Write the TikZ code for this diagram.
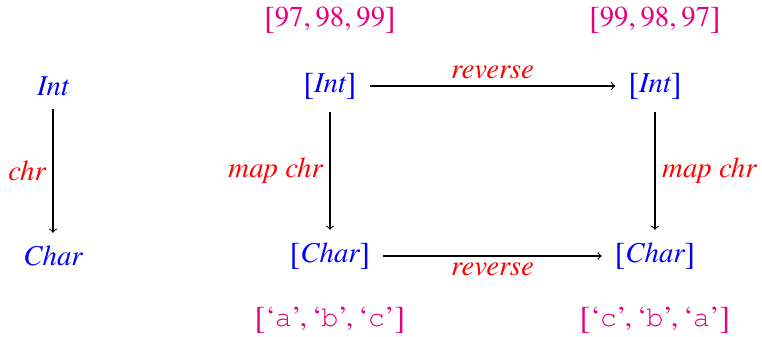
\documentclass[tikz,border=0pt]{standalone}
\usepackage{fontspec}
\setmainfont{texgyretermes}[
    Extension=.otf,
    UprightFont=*-regular,
    ItalicFont=*-italic,
    BoldFont=*-bold,
    BoldItalicFont=*-bolditalic]
\setmonofont{texgyrecursor}[
    Extension=.otf,
    UprightFont=*-regular]
\usepackage{xcolor}
\usepackage{tikz}
\usetikzlibrary{positioning}

\definecolor{listpink}{RGB}{230,0,125}

% taller square brackets, as in the printed lists
\newcommand{\lbrk}{\raisebox{-0.05em}{\upshape\fontsize{16}{18}\selectfont[}}
\newcommand{\rbrk}{\raisebox{-0.05em}{\upshape\fontsize{16}{18}\selectfont]}}

\begin{document}
\begin{tikzpicture}[
    x=0.5pt,
    y=-0.5pt,
    font=\fontsize{14.4}{16}\selectfont,
    obj/.style={
        text=blue,
        font=\fontsize{14.4}{16}\selectfont\itshape
    },
    fun/.style={
        text=red,
        font=\fontsize{14.4}{16}\selectfont\itshape
    },
    val/.style={text=listpink},
    arrow/.style={->, line width=0.55pt, shorten <=3pt, shorten >=3pt}
]

\useasboundingbox (0,0) rectangle (762,337);

\node[obj] (int) at (53,86) {Int};
\node[obj] (char) at (53,256) {Char};

\node[obj] (ints) at (330,86) {\lbrk Int\rbrk};
\node[obj] (chars) at (330,256) {\lbrk Char\rbrk};
\node[obj] (revints) at (655,86) {\lbrk Int\rbrk};
\node[obj] (revchars) at (655,256) {\lbrk Char\rbrk};

\node[val] (nums) at (330,20) {\lbrk 97,\,98,\,99\rbrk};
\node[val] (revnums) at (655,20) {\lbrk 99,\,98,\,97\rbrk};
\node[val] (letters) at (330,320) {\lbrk‘\texttt{a}’,\,‘\texttt{b}’,\,‘\texttt{c}’\rbrk};
\node[val] (revletters) at (655,320) {\lbrk‘\texttt{c}’,\,‘\texttt{b}’,\,‘\texttt{a}’\rbrk};

\draw[arrow] (int) -- node[fun, left] {chr} (char);

\draw[arrow] (ints) -- node[fun, above] {reverse} (revints);
\draw[arrow] (ints) -- node[fun, left] {map chr} (chars);
\draw[arrow] (revints) -- node[fun, right] {map chr} (revchars);
\draw[arrow] (chars) -- node[fun, below] {reverse} (revchars);

\end{tikzpicture}
\end{document}
